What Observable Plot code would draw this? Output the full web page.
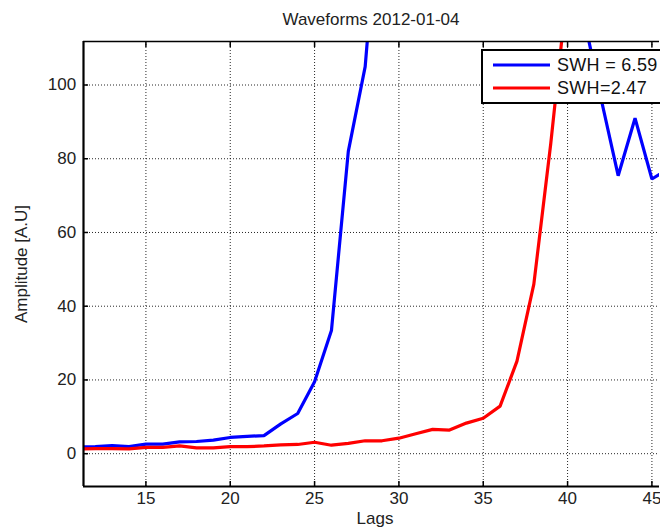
<!DOCTYPE html>
<html>
<head>
<meta charset="utf-8">
<script src="https://cdn.jsdelivr.net/npm/d3@7"></script>
<script src="https://cdn.jsdelivr.net/npm/@observablehq/plot@0.6"></script>
<style>
  body { margin: 0; background: #fff; }
  #wrap { position: relative; width: 660px; height: 531px; overflow: hidden; font-family: "Liberation Sans", Arial, sans-serif; }
  #legend { position: absolute; left: 481px; top: 49px; width: 200px; height: 51px; border: 2px solid #000; background: #fff; }
  .lg-row { position: absolute; left: 0; height: 22px; width: 200px; }
  .lg-row svg { position: absolute; left: 10px; top: 0; }
  .lg-row span { position: absolute; left: 74px; top: 1px; font-size: 18px; color: #111; line-height: 20px; white-space: nowrap; letter-spacing: 0.3px; }
</style>
</head>
<body>
<div id="wrap"></div>
<script>
// ---- data ----
const lags = [11,12,13,14,15,16,17,18,19,20,21,22,23,24,25,26,27,28,29,30,31,32,33,34,35,36,37,38,39,40,41,42,43,44,45,46];
const ampSWH659 = [1.8,1.9,2.2,1.9,2.6,2.6,3.2,3.3,3.7,4.4,4.7,4.9,8.1,10.9,19.5,33.4,82,105,160,200,250,290,320,335,330,300,260,210,170,140,117.6,96,75.4,91,74.5,77.4];
const ampSWH247 = [1.3,1.4,1.4,1.3,1.7,1.7,2.1,1.6,1.6,1.9,1.9,2.1,2.4,2.5,3.1,2.3,2.8,3.5,3.5,4.2,5.4,6.6,6.4,8.3,9.6,12.9,25.1,46,84,127,160,185,195,190,180,165];
const seriesNames = ["SWH = 6.59", "SWH=2.47"];
const seriesColors = ["#0000ff", "#ff0000"];
const xTicks = [15,20,25,30,35,40,45];
const yTicks = [0,20,40,60,80,100];
const xDomain = [11.3, 45.45];
const yDomain = [-8.9, 111.8];
const titleText = "Waveforms 2012-01-04";
const xLabel = "Lags";
const yLabel = "Amplitude [A.U]";

const series = [ampSWH659, ampSWH247];
const rows = series.map((vals, i) => lags.map((l, j) => ({lag: l, amp: vals[j], name: seriesNames[i]})));

const gridStyle = {stroke: "#000", strokeOpacity: 0.85, strokeWidth: 1, strokeDasharray: "1,2"};

const chart = Plot.plot({
  width: 660,
  height: 531,
  marginTop: 41,
  marginBottom: 45,
  marginLeft: 83,
  marginRight: 1,
  style: {fontFamily: '"Liberation Sans", Arial, sans-serif', fontSize: "17px", color: "#222", background: "#fff"},
  x: {domain: xDomain, label: null},
  y: {domain: yDomain, label: null},
  marks: [
    Plot.gridX(xTicks, gridStyle),
    Plot.gridY(yTicks, gridStyle),
    ...rows.map((r, i) => Plot.line(r, {x: "lag", y: "amp", stroke: seriesColors[i], strokeWidth: 3.2, clip: true, strokeLinejoin: "miter"})),
    Plot.axisX(xTicks, {anchor: "bottom", tickSize: -5, tickPadding: 10.9, label: null, stroke: "#000", strokeWidth: 1.5}),
    Plot.axisX(xTicks, {anchor: "top", tickSize: -5, tickFormat: () => "", label: null, stroke: "#000", strokeWidth: 1.5}),
    Plot.axisY(yTicks, {anchor: "left", tickSize: -5, tickPadding: 12.3, label: null, stroke: "#000", strokeWidth: 1.5}),
    Plot.ruleX([xDomain[0]], {stroke: "#000", strokeWidth: 2.2}),
    Plot.ruleY([yDomain[0]], {stroke: "#000", strokeWidth: 2.2}),
    Plot.ruleY([yDomain[1]], {stroke: "#000", strokeWidth: 1.4})
  ]
});

const wrap = document.getElementById("wrap");
wrap.appendChild(chart);

const svg = d3.select(chart);
const txt = (t, x, y, rot) => {
  const e = svg.append("text").attr("x", x).attr("y", y).attr("text-anchor", "middle")
    .attr("font-size", 17).attr("fill", "#222").text(t);
  if (rot) e.attr("transform", `rotate(-90 ${x} ${y})`);
};
txt(titleText, 371, 25);
txt(xLabel, 375, 524);
txt(yLabel, 27, 264, true);

// legend
const legend = document.createElement("div");
legend.id = "legend";
seriesNames.forEach((n, i) => {
  const row = document.createElement("div");
  row.className = "lg-row";
  row.style.top = (i === 0 ? 3 : 25.5) + "px";
  row.innerHTML = `<svg width="58" height="22"><line x1="0" x2="57" y1="11" y2="11" stroke="${seriesColors[i]}" stroke-width="3.2"/></svg><span>${n}</span>`;
  legend.appendChild(row);
});
wrap.appendChild(legend);
</script>
</body>
</html>
